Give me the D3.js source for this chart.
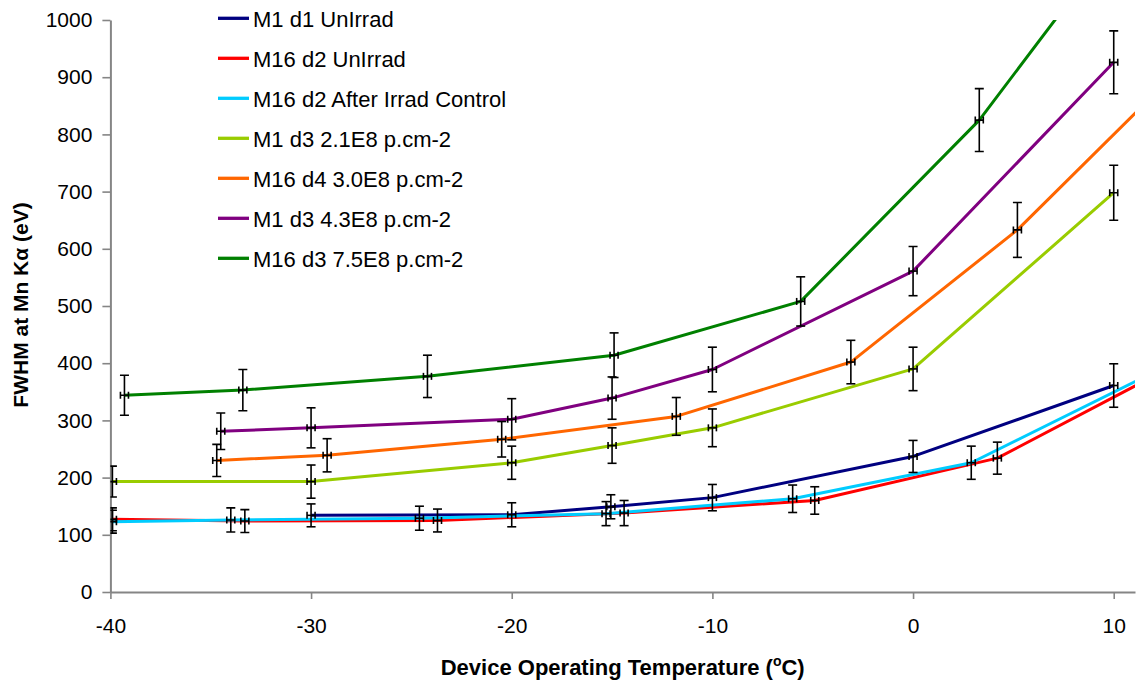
<!DOCTYPE html>
<html>
<head>
<meta charset="utf-8">
<script src="https://cdn.jsdelivr.net/npm/d3@7"></script>
<style>
  html, body { margin: 0; padding: 0; background: #fff; }
  svg { display: block; font-family: "Liberation Sans", Arial, sans-serif; }
</style>
</head>
<body>
<svg id="chart" width="1137" height="684"></svg>
<script>
// ---- Data ----
const seriesNames = [
  "M1 d1 UnIrrad",
  "M16 d2 UnIrrad",
  "M16 d2 After Irrad Control",
  "M1 d3 2.1E8 p.cm-2",
  "M16 d4 3.0E8 p.cm-2",
  "M1 d3 4.3E8 p.cm-2",
  "M16 d3 7.5E8 p.cm-2"
];
const seriesColors = ["#000080", "#FF0000", "#00CCFF", "#99CC00", "#FF6600", "#800080", "#008000"];

const m1d1Temp = [-30, -20, -15.06, -10, 0, 10];
const m1d1Fwhm = [134, 135, 149, 165, 237, 361];
const m1d1Err  = [20, 21, 21, 23, 28, 38];

const m16d2Temp = [-39.9, -33.3, -23.7, -14.4, -4.9, 4.2, 13.5];
const m16d2Fwhm = [127, 124, 125, 138, 160, 234, 405];
const m16d2Err  = [20, 20, 20, 22, 24, 28, 40];

const m16d2AfterTemp = [-39.9, -34.0, -24.6, -15.3, -6.0, 2.9, 12.0];
const m16d2AfterFwhm = [123, 126, 129, 137, 163, 226, 384];
const m16d2AfterErr  = [20, 21, 21, 21, 24, 29, 38];

const m1d3aTemp = [-39.9, -30, -20, -15, -10, 0, 10];
const m1d3aFwhm = [193, 193, 226, 256, 287, 390, 698];
const m1d3aErr  = [27, 29, 29, 31, 33, 38, 48];

const m16d4Temp = [-34.7, -29.2, -20.5, -11.8, -3.1, 5.2, 13.6];
const m16d4Fwhm = [230, 239, 267, 307, 402, 633, 925];
const m16d4Err  = [28, 29, 31, 33, 38, 48, 55];

const m1d3bTemp = [-34.5, -30, -20, -15, -10, 0, 10];
const m1d3bFwhm = [281, 287, 302, 339, 389, 561, 926];
const m1d3bErr  = [32, 35, 36, 37, 39, 43, 55];

const m16d3Temp = [-39.3, -33.4, -24.2, -14.9, -5.6, 3.3, 12.2];
const m16d3Fwhm = [344, 353, 377, 414, 508, 825, 1238];
const m16d3Err  = [35, 36, 37, 39, 43, 55, 60];

const tempErr = 0.2;

const xTicks = [-40, -30, -20, -10, 0, 10];
const yTicks = [0, 100, 200, 300, 400, 500, 600, 700, 800, 900, 1000];

const xTitle = "Device Operating Temperature (";
const yTitle = "FWHM at Mn K\u03B1 (eV)";

// ---- Build series table ----
const temps = [m1d1Temp, m16d2Temp, m16d2AfterTemp, m1d3aTemp, m16d4Temp, m1d3bTemp, m16d3Temp];
const fwhms = [m1d1Fwhm, m16d2Fwhm, m16d2AfterFwhm, m1d3aFwhm, m16d4Fwhm, m1d3bFwhm, m16d3Fwhm];
const errs  = [m1d1Err, m16d2Err, m16d2AfterErr, m1d3aErr, m16d4Err, m1d3bErr, m16d3Err];
const series = seriesNames.map((name, i) => ({
  name, color: seriesColors[i],
  points: temps[i].map((t, j) => ({ x: t, y: fwhms[i][j], e: errs[i][j] }))
}));

// ---- Layout ----
const svg = d3.select("#chart");
const pLeft = 110.4, pRight = 1135, pTop = 20, pBottom = 592;
const x = d3.scaleLinear().domain([-40, 11.06]).range([pLeft, pRight]);
const y = d3.scaleLinear().domain([0, 1000]).range([pBottom, pTop]);

svg.append("defs").append("clipPath").attr("id", "plotclip")
  .append("rect").attr("x", pLeft).attr("y", pTop).attr("width", pRight - pLeft).attr("height", pBottom - pTop);

const axisColor = "#858585";
const fontSize = 21;
const plainFmt = d => String(d);

// Axes
const gx = svg.append("g").attr("transform", `translate(0,${pBottom})`)
  .call(d3.axisBottom(x).tickValues(xTicks).tickSize(7).tickSizeOuter(0).tickPadding(19).tickFormat(plainFmt));
const gy = svg.append("g").attr("transform", `translate(${pLeft},0)`)
  .call(d3.axisLeft(y).tickValues(yTicks).tickSize(8).tickSizeOuter(0).tickPadding(10).tickFormat(plainFmt));
[gx, gy].forEach(g => {
  g.select(".domain").attr("stroke", axisColor).attr("stroke-width", 2);
  g.selectAll(".tick line").attr("stroke", axisColor).attr("stroke-width", 1.6);
  g.selectAll(".tick text").attr("fill", "#000").style("font-size", fontSize + "px")
    .style("font-family", '"Liberation Sans", Arial, sans-serif');
});

// Lines
const plot = svg.append("g").attr("clip-path", "url(#plotclip)");
const line = d3.line().x(d => x(d.x)).y(d => y(d.y));
series.forEach(s => {
  plot.append("path").datum(s.points)
    .attr("fill", "none").attr("stroke", s.color).attr("stroke-width", 3)
    .attr("stroke-linejoin", "round").attr("d", line);
});

// Error bars
const cap = 4.5, hcap = 3.5;
series.forEach(s => {
  const g = plot.append("g").attr("stroke", "#000").attr("stroke-width", 1.6).attr("fill", "none");
  s.points.forEach(p => {
    const cx = x(p.x), cy = y(p.y), yt = y(p.y + p.e), yb = y(p.y - p.e);
    const xl = x(p.x - tempErr), xr = x(p.x + tempErr);
    g.append("line").attr("x1", cx).attr("x2", cx).attr("y1", yt).attr("y2", yb);
    g.append("line").attr("x1", cx - cap).attr("x2", cx + cap).attr("y1", yt).attr("y2", yt);
    g.append("line").attr("x1", cx - cap).attr("x2", cx + cap).attr("y1", yb).attr("y2", yb);
    g.append("line").attr("x1", xl).attr("x2", xr).attr("y1", cy).attr("y2", cy);
    g.append("line").attr("x1", xl).attr("x2", xl).attr("y1", cy - hcap).attr("y2", cy + hcap);
    g.append("line").attr("x1", xr).attr("x2", xr).attr("y1", cy - hcap).attr("y2", cy + hcap);
  });
});

// Legend
const leg = svg.append("g");
series.forEach((s, i) => {
  const ly = 18.3 + i * 40;
  leg.append("line").attr("x1", 218).attr("x2", 249).attr("y1", ly).attr("y2", ly)
    .attr("stroke", s.color).attr("stroke-width", 3.3);
  leg.append("text").attr("x", 253).attr("y", ly + 9).attr("fill", "#000")
    .style("font-size", "22px").text(s.name);
});

// Axis titles
const xt = svg.append("text").attr("x", (pLeft + pRight) / 2).attr("y", 675)
  .attr("text-anchor", "middle").style("font-size", "22px").style("font-weight", "bold");
xt.append("tspan").text(xTitle);
xt.append("tspan").attr("dy", -9).style("font-size", "14px").text("o");
xt.append("tspan").attr("dy", 9).text("C)");

svg.append("text").attr("transform", "translate(28,305) rotate(-90)")
  .attr("text-anchor", "middle").style("font-size", fontSize + "px").style("font-weight", "bold")
  .text(yTitle);
</script>
</body>
</html>
